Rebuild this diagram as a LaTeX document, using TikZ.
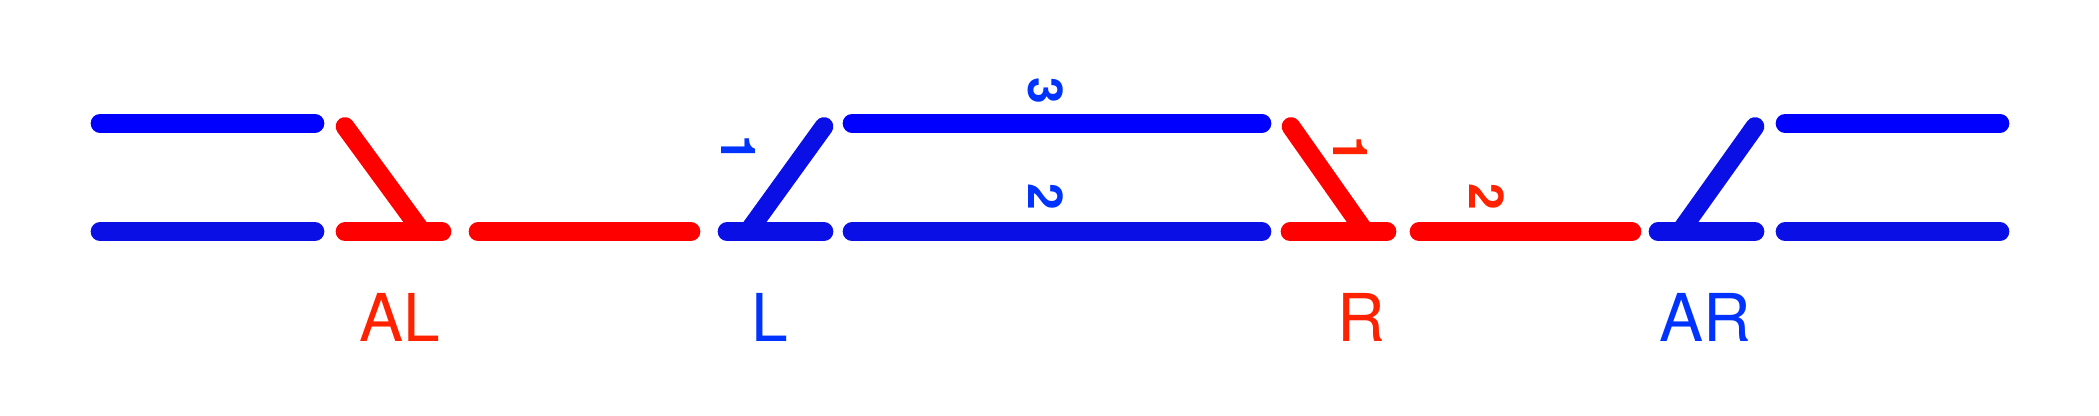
\documentclass[tikz,border=0pt]{standalone}
\usepackage{fontspec}
\setmainfont{TeX Gyre Heros}
\usetikzlibrary{positioning}

\definecolor{topblue}{RGB}{0,0,255}
\definecolor{lowblue}{RGB}{10,15,230}
\definecolor{trackred}{RGB}{255,0,0}
\definecolor{tagred}{RGB}{255,34,0}
\definecolor{tagblue}{RGB}{0,51,255}

\begin{document}
\begin{tikzpicture}[
  x=0.5pt, y=-0.5pt,
  rail/.style={line width=9.35pt, line cap=round},
  station/.style={font=\fontsize{33}{33}\selectfont, inner sep=0pt},
  route/.style={font=\bfseries\fontsize{24}{24}\selectfont, inner sep=0pt, rotate=-90}
]
\useasboundingbox (0,0) rectangle (2099,416);

% upper line
\coordinate (ua) at (100,123.3);  \coordinate (ub) at (315,123.3);
\coordinate (uc) at (852,123.3);  \coordinate (ud) at (1262,123.3);
\coordinate (ue) at (1785,123.3); \coordinate (uf) at (2000,123.3);
% lower line
\coordinate (la) at (100,231.7);  \coordinate (lb) at (315,231.7);
\coordinate (alw) at (345,231.7); \coordinate (ale) at (442,231.7);
\coordinate (rla) at (478,231.7); \coordinate (rlb) at (691,231.7);
\coordinate (lw) at (727,231.7);  \coordinate (le) at (824,231.7);
\coordinate (lc) at (852,231.7);  \coordinate (ld) at (1262,231.7);
\coordinate (rw) at (1290,231.7); \coordinate (re) at (1387,231.7);
\coordinate (rra) at (1419,231.7); \coordinate (rrb) at (1632,231.7);
\coordinate (arw) at (1658,231.7); \coordinate (are) at (1755,231.7);
\coordinate (lg) at (1785,231.7); \coordinate (lf) at (2000,231.7);
% switch blades
\coordinate (alt) at (345,126.5);  \coordinate (alj) at (422,231.7);
\coordinate (lt) at (824,126.5);   \coordinate (lj) at (748,231.7);
\coordinate (rt) at (1291,126.5);  \coordinate (rj) at (1365,231.7);
\coordinate (art) at (1755,126.5); \coordinate (arj) at (1680,231.7);

\draw[rail, topblue] (ua) -- (ub);
\draw[rail, topblue] (uc) -- (ud);
\draw[rail, topblue] (ue) -- (uf);

\draw[rail, lowblue] (la) -- (lb);
\draw[rail, trackred] (alw) -- (ale);
\draw[rail, trackred] (alt) -- (alj);
\draw[rail, trackred] (rla) -- (rlb);
\draw[rail, lowblue] (lw) -- (le);
\draw[rail, lowblue] (lt) -- (lj);
\draw[rail, lowblue] (lc) -- (ld);
\draw[rail, trackred] (rw) -- (re);
\draw[rail, trackred] (rt) -- (rj);
\draw[rail, trackred] (rra) -- (rrb);
\draw[rail, lowblue] (arw) -- (are);
\draw[rail, lowblue] (art) -- (arj);
\draw[rail, lowblue] (lg) -- (lf);

% route numbers
\node[route, text=tagblue] (nlone) at (739,148.5) {1};
\node[route, text=tagblue] (nthree) at (1046,91) {3};
\node[route, text=tagblue] (nltwo) at (1046,196.5) {2};
\node[route, text=tagred] (nrone) at (1350,150) {1};
\node[route, text=tagred] (nrtwo) at (1487,196.5) {2};

% stations
\node[station, text=tagred] (tagAL) at (400,317) {AL};
\node[station, text=tagblue] (tagL) at (770,317) {L};
\node[station, text=tagred] (tagR) at (1361,317) {R};
\node[station, text=tagblue] (tagAR) at (1705,317) {AR};
\end{tikzpicture}
\end{document}
